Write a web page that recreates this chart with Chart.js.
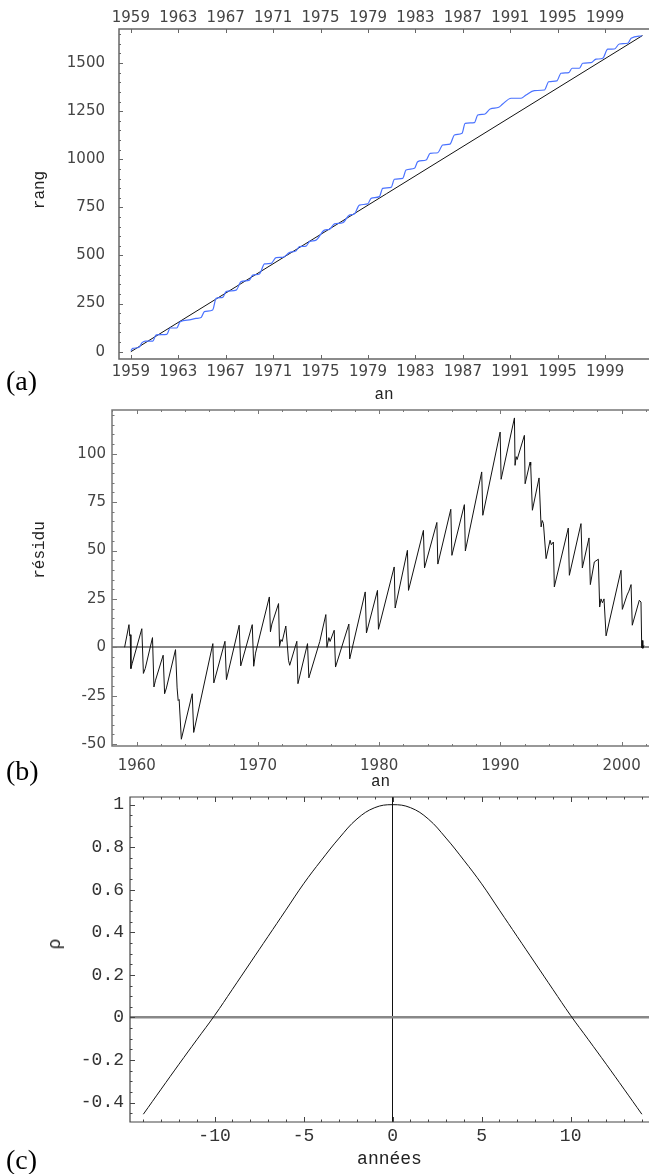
<!DOCTYPE html>
<html>
<head>
<meta charset="utf-8">
<script src="https://cdn.jsdelivr.net/npm/chart.js@4.4.1/dist/chart.umd.min.js"></script>
<style>
  body { margin: 0; background: #fff; }
  #page { position: relative; width: 649px; height: 1174px; overflow: hidden; }
  canvas { position: absolute; left: 0; }
  .tag { position: absolute; left: 6px; font-family: "Liberation Serif"; font-size: 28px; line-height: 28px; color: #000; }
  .ytitle { position: absolute; font-family: "Liberation Mono"; color: #222; white-space: nowrap;
            transform: translate(-50%, -50%) rotate(-90deg); }
</style>
</head>
<body>
<div id="page">
  <canvas id="chartA" width="649" height="405" style="top:0"></canvas>
  <canvas id="chartB" width="649" height="385" style="top:405px"></canvas>
  <canvas id="chartC" width="649" height="384" style="top:790px"></canvas>
  <div class="tag" style="top:367px">(a)</div>
  <div class="tag" style="top:757px">(b)</div>
  <div class="tag" style="top:1146px">(c)</div>
  <div class="ytitle" style="left:40px;top:190px;font-size:16px">rang</div>
  <div class="ytitle" style="left:40px;top:550px;font-size:16px">résidu</div>
  <div class="ytitle" style="left:55px;top:944px;font-size:18px">ρ</div>
</div>
<script>
// (a) rank against year, with the straight fit
const rankYears = [1959.0, 1959.16, 1959.67, 1959.95, 1960.23, 1960.85, 1961.13, 1962.03, 1962.31, 1962.87,
  1963.16, 1963.94, 1964.5, 1964.93, 1965.2, 1965.9, 1966.19, 1966.75, 1967.03, 1967.88,
  1968.3, 1969.0, 1969.28, 1969.84, 1970.27, 1970.83, 1971.25, 1971.81, 1972.37, 1972.94,
  1973.22, 1973.78, 1974.06, 1974.62, 1975.33, 1975.75, 1976.17, 1976.87, 1977.43, 1977.85,
  1978.28, 1978.98, 1979.26, 1979.96, 1980.24, 1980.95, 1981.23, 1981.93, 1982.21, 1982.92,
  1983.2, 1983.9, 1984.24, 1984.88, 1985.3, 1985.92, 1986.29, 1986.93, 1987.19, 1987.97,
  1988.26, 1988.82, 1989.3, 1990.03, 1990.36, 1991.07, 1991.91, 1992.33, 1993.03, 1993.88,
  1994.24, 1994.92, 1995.28, 1995.93, 1996.21, 1996.83, 1997.11, 1997.81, 1998.23, 1998.8,
  1999.22, 1999.78, 2000.2, 2000.91, 2001.19, 2002.12];
const rankValues = [5, 17, 22, 47, 55, 55, 87, 90, 123, 123,
  156, 165, 173, 178, 208, 217, 277, 282, 312, 320,
  364, 372, 398, 404, 456, 459, 489, 490, 515, 525,
  546, 549, 572, 580, 632, 636, 664, 670, 710, 716,
  762, 768, 797, 806, 849, 854, 896, 901, 944, 953,
  988, 996, 1031, 1034, 1074, 1079, 1126, 1135, 1187, 1190,
  1230, 1234, 1261, 1270, 1287, 1317, 1317, 1334, 1357, 1360,
  1403, 1407, 1447, 1450, 1473, 1473, 1499, 1502, 1520, 1525,
  1572, 1573, 1599, 1603, 1629, 1642];
const fitYears = [1959, 2002.15];
const fitRank = [0, 1643];
const tickYearsA = [1959, 1963, 1967, 1971, 1975, 1979, 1983, 1987, 1991, 1995, 1999];
const rankTicks = [0, 250, 500, 750, 1000, 1250, 1500];

// (b) residual of the rank around the fit
const residYears = [1959.0, 1959.36, 1959.42, 1959.46, 1959.52, 1959.62, 1960.42, 1960.55, 1960.7, 1961.3,
  1961.42, 1961.55, 1962.18, 1962.3, 1962.45, 1963.2, 1963.33, 1963.42, 1963.5, 1963.68,
  1964.58, 1964.7, 1966.28, 1966.36, 1967.28, 1967.4, 1968.45, 1968.58, 1969.53, 1969.65,
  1969.8, 1970.94, 1971.03, 1971.15, 1971.7, 1971.78, 1971.9, 1972.0, 1972.3, 1972.52,
  1972.62, 1973.21, 1973.3, 1974.09, 1974.2, 1975.1, 1975.6, 1975.69, 1975.85, 1975.95,
  1976.29, 1976.4, 1977.5, 1977.57, 1978.85, 1978.95, 1979.86, 1979.94, 1981.24, 1981.32,
  1982.33, 1982.42, 1983.65, 1983.74, 1984.76, 1984.84, 1985.91, 1986.0, 1987.03, 1987.11,
  1988.46, 1988.55, 1989.98, 1990.06, 1991.16, 1991.21, 1991.3, 1991.38, 1991.98, 1992.04,
  1992.45, 1992.5, 1992.64, 1993.19, 1993.36, 1993.45, 1993.55, 1993.77, 1994.1, 1994.2,
  1994.37, 1994.45, 1995.6, 1995.69, 1996.65, 1996.76, 1997.31, 1997.42, 1997.75, 1998.08,
  1998.19, 1998.3, 1998.42, 1998.55, 1998.72, 1999.95, 2000.06, 2000.45, 2000.6, 2000.78,
  2000.88, 2001.46, 2001.6, 2001.66, 2001.7, 2001.75, 2001.85];
const residValues = [0, 11.7, 6, 6.5, -11, -8.5, 9.6, -13.5, -11, 5,
  -20.5, -17, -4.1, -24, -21, -1.2, -21, -27.5, -27, -47.5,
  -24, -44, 1.9, -18.4, 3.1, -16.7, 11.4, -9.6, 11.7, -9.8,
  -3, 26, 8, 12, 22.6, 0.5, 4, 3, 11, -6.7,
  -9.3, 3.1, -18.8, 1.9, -15.8, 3, 16.9, 0, 5, 3,
  8.8, -10.2, 12, -6, 28.6, 7.4, 29.4, 9.3, 41.5, 20.3,
  50.1, 29.4, 60.4, 41, 64.5, 43, 71.3, 47.5, 73.7, 49.8,
  90.6, 68.2, 111.2, 86.8, 118.5, 94, 98.5, 97, 109.5, 84.5,
  95.7, 94, 70.8, 87.5, 62.2, 65.5, 64, 45.8, 55.3, 53,
  54.4, 31.2, 61.6, 37.2, 63.9, 41, 56.5, 32.4, 44.1, 45.5,
  20.8, 25, 23, 25, 5.9, 39.8, 19.6, 27, 29, 32.4,
  11.4, 24.3, 23.4, -0.3, 3.5, -0.5, 1];
const tickYearsB = [1960, 1970, 1980, 1990, 2000];
const residTicks = [-50, -25, 0, 25, 50, 75, 100];

// (c) autocorrelation against lag in years
const lagYears = [-14, -13, -12, -11, -10, -9, -8, -7, -6, -5, -4, -3, -2, -1, 0,
  1, 2, 3, 4, 5, 6, 7, 8, 9, 10, 11, 12, 13, 14];
const rhoValues = [-0.455, -0.337, -0.22, -0.105, 0.009, 0.132, 0.256, 0.38, 0.504, 0.628, 0.739, 0.843, 0.933, 0.986, 1,
  0.986, 0.933, 0.843, 0.739, 0.628, 0.504, 0.38, 0.256, 0.132, 0.009, -0.105, -0.22, -0.337, -0.455];
const lagTicks = [-10, -5, 0, 5, 10];
const rhoTicks = [-0.4, -0.2, 0, 0.2, 0.4, 0.6, 0.8, 1];

const points = (xs, ys) => xs.map((x, i) => ({ x: x, y: ys[i] }));

const stepsIn = (min, max, anchor, step) => {
  const out = [];
  for (let k = Math.ceil((min - anchor) / step - 1e-9); anchor + k * step <= max + 1e-9; k++) {
    out.push(anchor + k * step);
  }
  return out;
};

// frame on three sides with inward ticks, like the original plots
const frameTicks = {
  id: "frameTicks",
  afterDraw(chart, args, o) {
    const { ctx, chartArea: a } = chart;
    const xs = chart.scales.x;
    const ys = chart.scales.y;
    ctx.save();
    ctx.strokeStyle = o.color;
    ctx.lineWidth = o.frameWidth;
    ctx.beginPath();
    ctx.moveTo(a.right + 2, a.top);
    ctx.lineTo(a.left, a.top);
    ctx.lineTo(a.left, a.bottom);
    ctx.lineTo(a.right + 2, a.bottom);
    ctx.stroke();
    ctx.lineWidth = 1;
    ctx.beginPath();
    o.x.forEach(([step, len]) => {
      stepsIn(xs.min, xs.max, o.x0, step).forEach((v) => {
        const px = Math.round(xs.getPixelForValue(v)) + 0.5;
        ctx.moveTo(px, a.bottom);
        ctx.lineTo(px, a.bottom - len);
        ctx.moveTo(px, a.top);
        ctx.lineTo(px, a.top + len);
      });
    });
    o.y.forEach(([step, len]) => {
      stepsIn(ys.min, ys.max, 0, step).forEach((v) => {
        const py = Math.round(ys.getPixelForValue(v)) + 0.5;
        ctx.moveTo(a.left, py);
        ctx.lineTo(a.left + len, py);
      });
    });
    ctx.stroke();
    ctx.restore();
  },
};

const fixSize = (size) => (scale) => {
  if (scale.isHorizontal()) {
    scale.height = size;
  } else {
    scale.width = size;
  }
  scale.paddingLeft = 0;
  scale.paddingRight = 0;
  scale.paddingTop = 0;
  scale.paddingBottom = 0;
};
const useTicks = (values) => (scale) => {
  scale.ticks = values.map((v) => ({ value: v }));
};
const zeroGrid = (color, width) => ({
  drawTicks: false,
  color: (c) => (c.tick && c.tick.value === 0 ? color : "rgba(0,0,0,0)"),
  lineWidth: (c) => (c.tick && c.tick.value === 0 ? width : 0),
});

const axis = (opts) => ({
  type: "linear",
  position: opts.position,
  min: opts.min,
  max: opts.max,
  afterBuildTicks: useTicks(opts.ticks),
  afterFit: fixSize(opts.size),
  border: { display: false },
  grid: opts.grid || { display: false },
  ticks: {
    autoSkip: false,
    maxRotation: 0,
    padding: opts.padding,
    color: opts.color || "#444",
    font: opts.font,
    callback: (v) => String(v),
  },
  title: opts.title || { display: false },
});

const sansTicks = { family: "DejaVu Sans", size: 15 };
const monoTicks = { family: "Liberation Mono", size: 18 };

// eslint-disable-next-line no-undef
Chart.defaults.animation = false;

// eslint-disable-next-line no-undef
new Chart(document.getElementById("chartA"), {
  type: "line",
  plugins: [frameTicks],
  data: {
    datasets: [
      {
        data: points(rankYears, rankValues),
        borderColor: "#4a72ff",
        borderWidth: 1.2,
        pointRadius: 0,
        cubicInterpolationMode: "monotone",
      },
      {
        data: points(fitYears, fitRank),
        borderColor: "#111",
        borderWidth: 1,
        pointRadius: 0,
      },
    ],
  },
  options: {
    responsive: false,
    layout: { padding: 0 },
    plugins: {
      legend: { display: false },
      tooltip: { enabled: false },
      frameTicks: { color: "#666", frameWidth: 1.5, x0: 1959, x: [[4, 4]], y: [[250, 4], [50, 2]] },
    },
    scales: {
      x: axis({
        position: "bottom", min: 1958, max: 2002.7, ticks: tickYearsA, size: 46, padding: -4, font: sansTicks,
        title: { display: true, text: "an", color: "#222", font: { family: "Liberation Mono", size: 16 }, padding: { top: 0, bottom: 1 } },
      }),
      x2: axis({ position: "top", min: 1958, max: 2002.7, ticks: tickYearsA, size: 29, padding: -6, font: sansTicks }),
      y: axis({ position: "left", min: -38, max: 1677, ticks: rankTicks, size: 119, padding: 6, font: sansTicks }),
    },
  },
});

// eslint-disable-next-line no-undef
new Chart(document.getElementById("chartB"), {
  type: "line",
  plugins: [frameTicks],
  data: {
    datasets: [
      {
        data: points(residYears, residValues),
        borderColor: "#111",
        borderWidth: 1,
        pointRadius: 0,
      },
    ],
  },
  options: {
    responsive: false,
    layout: { padding: { top: 5 } },
    plugins: {
      legend: { display: false },
      tooltip: { enabled: false },
      frameTicks: { color: "#777", frameWidth: 1.5, x0: 1960, x: [[10, 4], [2, 2]], y: [[25, 5], [5, 2.5]] },
    },
    scales: {
      x: axis({
        position: "bottom", min: 1957.96, max: 2002.26, ticks: tickYearsB, size: 44, padding: 3, font: sansTicks,
        title: { display: true, text: "an", color: "#222", font: { family: "Liberation Mono", size: 16 }, padding: { top: 0, bottom: -1 } },
      }),
      y: axis({
        position: "left", min: -51, max: 122.6, ticks: residTicks, size: 112, padding: 6, font: sansTicks,
        grid: zeroGrid("#888", 2),
      }),
    },
  },
});

// eslint-disable-next-line no-undef
new Chart(document.getElementById("chartC"), {
  type: "line",
  plugins: [frameTicks],
  data: {
    datasets: [
      {
        data: points(lagYears, rhoValues),
        borderColor: "#111",
        borderWidth: 1,
        pointRadius: 0,
        tension: 0.4,
      },
    ],
  },
  options: {
    responsive: false,
    layout: { padding: { top: 7 } },
    plugins: {
      legend: { display: false },
      tooltip: { enabled: false },
      frameTicks: { color: "#444", frameWidth: 1.2, x0: 0, x: [[5, 5], [1, 2.5]], y: [[0.2, 5], [0.05, 2.5]] },
    },
    scales: {
      x: axis({
        position: "bottom", min: -14.75, max: 14.4, ticks: lagTicks, size: 52, padding: 3, font: monoTicks, color: "#333",
        grid: zeroGrid("#111", 1),
        title: { display: true, text: "années", color: "#222", font: { family: "Liberation Mono", size: 18 }, padding: { top: 0, bottom: 4 } },
      }),
      y: axis({
        position: "left", min: -0.4915, max: 1.036, ticks: rhoTicks, size: 130, padding: 6, font: monoTicks, color: "#333",
        grid: zeroGrid("#888", 2.5),
      }),
    },
  },
});
</script>
</body>
</html>
